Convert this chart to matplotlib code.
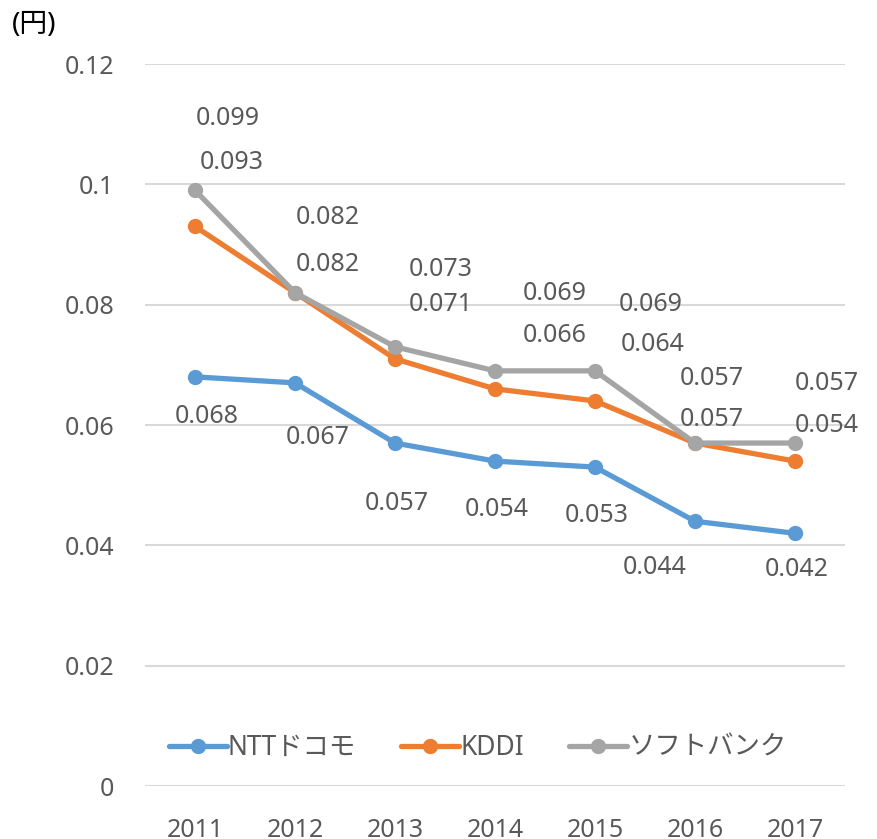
import matplotlib
matplotlib.use("Agg")
from matplotlib import pyplot as plt
import numpy as np

years = ["2011", "2012", "2013", "2014", "2015", "2016", "2017"]
ntt = [0.068, 0.067, 0.057, 0.054, 0.053, 0.044, 0.042]
kddi = [0.093, 0.082, 0.071, 0.066, 0.064, 0.057, 0.054]
softbank = [0.099, 0.082, 0.073, 0.069, 0.069, 0.057, 0.057]
series_names = ["NTTドコモ", "KDDI", "ソフトバンク"]
y_ticks = [0, 0.02, 0.04, 0.06, 0.08, 0.1, 0.12]
y_tick_labels = ["0", "0.02", "0.04", "0.06", "0.08", "0.1", "0.12"]

# label offsets in pixels (hand placed like in the original)
ntt_offsets = [(12, -40), (23, -55), (2, -60), (2, -48), (2, -48), (-40, -46), (2, -36)]
kddi_offsets = [(37, 64), (33, 28), (46, 54), (60, 53), (58, 56), (17, 24), (32, 36)]
soft_offsets = [(33, 72), (33, 75), (46, 77), (60, 77), (56, 66), (17, 65), (32, 60)]

plt.rcParams['font.family'] = ['Noto Sans', 'Noto Sans CJK JP', 'DejaVu Sans']
TEXT = "#595959"
FS = 18


def main():
    fig = plt.figure(figsize=(8.78, 8.39), dpi=100)
    ax = fig.add_axes([145 / 878, 1 - 786 / 839, 700 / 878, 722 / 839])
    x = np.arange(len(years))

    data = [(ntt, "#5B9BD5", ntt_offsets),
            (kddi, "#ED7D31", kddi_offsets),
            (softbank, "#A5A5A5", soft_offsets)]
    for (vals, color, offs), name in zip(data, series_names):
        ax.plot(x, vals, color=color, lw=3.8, marker="o", markersize=10,
                label=name, solid_capstyle="round", zorder=3)
        for xi, v, (dx, dy) in zip(x, vals, offs):
            ax.annotate(f"{v:.3f}", xy=(xi, v), xytext=(dx, dy),
                        textcoords="offset pixels", ha="center", va="center",
                        fontsize=FS, color=TEXT, zorder=4)

    ax.set_xlim(-0.5, len(years) - 0.5)
    ax.set_ylim(0, 0.12)
    ax.set_yticks(y_ticks)
    ax.set_yticklabels(y_tick_labels)
    ax.set_xticks(x)
    ax.set_xticklabels(years)
    ax.tick_params(length=0, labelsize=FS, labelcolor=TEXT)
    ax.tick_params(axis="y", pad=22)
    ax.tick_params(axis="x", pad=23)
    ax.grid(axis="y", color="#D9D9D9", lw=1.5)
    ax.set_axisbelow(True)
    for s in ax.spines.values():
        s.set_visible(False)

    ax.legend(loc="center", bbox_to_anchor=(0.475, (786 - 748) / 722),
              ncol=3, frameon=False, fontsize=FS + 1, handlelength=2.2,
              columnspacing=1.7, handletextpad=0.05, labelcolor=TEXT)

    fig.text(12 / 878, 1 - 25 / 839, "(円)", fontsize=20, color="black",
             ha="left", va="center")

    fig.savefig("out.png", dpi=100)


if __name__ == "__main__":
    main()
